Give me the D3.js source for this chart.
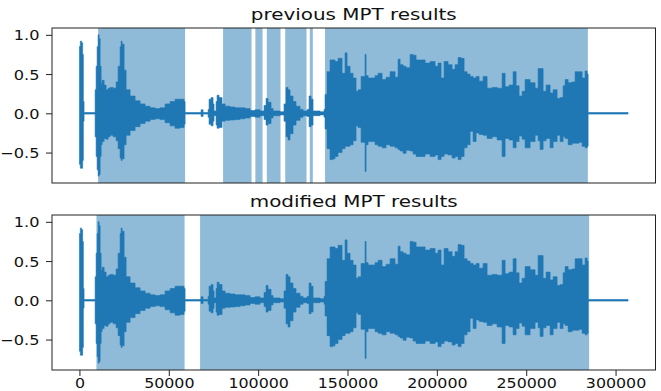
<!DOCTYPE html>
<html><head><meta charset="utf-8">
<script src="https://cdn.jsdelivr.net/npm/d3@7"></script>
<style>body{margin:0;background:#fff}svg{display:block}</style>
</head><body><svg id="c" width="661" height="391"></svg>
<script>
const panelTitles = ["previous MPT results", "modified MPT results"];
const xTicks = [0, 50000, 100000, 150000, 200000, 250000, 300000];
const yTicks = [-0.5, 0.0, 0.5, 1.0];
const signalLength = 307000;
const prevShaded = [[10460, 59120], [80380, 96310], [98440, 102460], [104870, 112530], [115160, 127070], [128920, 130590], [137430, 284500]];
const modShaded = [[9510, 58840], [67510, 285200]];

// waveform envelope (sample index, upper value, lower value)
const envSample = [
  0, 500, 1200, 1800, 2200, 2600,
  8500, 8780, 9340, 9900, 10460, 11020, 11580, 12140, 12700, 13820, 14930, 16050, 17170, 18850, 20530, 21650, 22760, 23320, 23880, 25000, 26120, 28350, 31150, 33950, 36740, 39540, 42340, 45130, 47930, 50730, 53520, 56320, 58560, 59120,
  68070, 69190, 71990, 72540, 73660, 74780, 75340, 76460, 77020, 78140, 79820, 81500, 84290, 87090, 89890, 92680, 95480, 98280, 101070, 103310, 104430, 105550, 107230, 108350, 112250, 114490, 115610, 116730, 117850, 119530, 121210, 123450, 125130, 127370, 128490, 129610, 130730, 134640, 136880,
  137440, 138560, 140240, 141920, 143040, 144720, 146960, 148640, 149760, 151440, 153120, 154800, 155920, 157600, 159840, 160400, 161520, 163760, 165440, 167120,
  169360, 171600, 173830, 176630, 178310, 179430, 181110, 182790, 185030, 186710, 188390, 190630, 193420, 196220, 199020, 200690, 202370, 204050, 206290, 208530,
  210210, 211890, 213570, 215250, 216930, 218600, 220280, 221960, 223640, 225880, 228120, 230920, 233710, 236510, 238190, 240430, 242670, 244350, 246020, 247700,
  249380, 252180, 254980, 256660, 257780, 259460, 261140, 263380, 265060, 267290, 268970, 270650, 271770, 273450, 275690, 277370, 279610, 281290, 282970, 284090,
  284650, 307000
];
const envUpper = [
  0.85, 0.92, 0.90, 0.75, 0.15, 0.01,
  0.01, 0.30, 0.60, 0.85, 1.00, 0.95, 0.60, 0.38, 0.42, 0.36, 0.30, 0.32, 0.33, 0.32, 0.40, 0.60, 0.85, 0.92, 0.88, 0.55, 0.30, 0.22, 0.16, 0.12, 0.09, 0.07, 0.06, 0.07, 0.12, 0.15, 0.18, 0.18, 0.15, 0.01,
  0.045, 0.01, 0.05, 0.18, 0.20, 0.12, 0.03, 0.15, 0.23, 0.20, 0.12, 0.09, 0.08, 0.07, 0.07, 0.06, 0.035, 0.045, 0.03, 0.10, 0.19, 0.14, 0.06, 0.03, 0.02, 0.12, 0.33, 0.30, 0.22, 0.15, 0.09, 0.05, 0.03, 0.05, 0.22, 0.18, 0.03, 0.02, 0.05,
  0.24, 0.53, 0.68, 0.68, 0.66, 0.70, 0.51, 0.77, 0.60, 0.51, 0.45, 0.28, 0.30, 0.47, 0.75, 0.48, 0.45, 0.45, 0.48, 0.51,
  0.43, 0.46, 0.53, 0.46, 0.69, 0.62, 0.60, 0.58, 0.75, 0.74, 0.68, 0.68, 0.64, 0.66, 0.60, 0.64, 0.45, 0.66, 0.62, 0.56,
  0.62, 0.71, 0.70, 0.53, 0.50, 0.47, 0.45, 0.47, 0.41, 0.47, 0.32, 0.33, 0.32, 0.51, 0.34, 0.36, 0.53, 0.35, 0.22, 0.28,
  0.43, 0.39, 0.32, 0.57, 0.57, 0.28, 0.36, 0.26, 0.30, 0.19, 0.20, 0.35, 0.43, 0.39, 0.40, 0.53, 0.53, 0.45, 0.54, 0.50,
  0.01, 0.01
];
const envLower = [
  -0.65, -0.70, -0.70, -0.60, -0.10, -0.01,
  -0.01, -0.30, -0.55, -0.72, -0.80, -0.78, -0.55, -0.40, -0.36, -0.32, -0.33, -0.30, -0.28, -0.30, -0.35, -0.45, -0.57, -0.60, -0.58, -0.40, -0.28, -0.22, -0.17, -0.13, -0.10, -0.08, -0.07, -0.08, -0.12, -0.16, -0.19, -0.18, -0.14, -0.01,
  -0.04, -0.01, -0.05, -0.14, -0.16, -0.10, -0.03, -0.15, -0.19, -0.18, -0.10, -0.09, -0.085, -0.08, -0.07, -0.06, -0.04, -0.05, -0.03, -0.08, -0.15, -0.13, -0.06, -0.03, -0.02, -0.10, -0.30, -0.34, -0.26, -0.15, -0.09, -0.05, -0.03, -0.04, -0.17, -0.15, -0.03, -0.02, -0.05,
  -0.20, -0.45, -0.59, -0.58, -0.55, -0.50, -0.45, -0.42, -0.42, -0.40, -0.35, -0.16, -0.18, -0.37, -0.74, -0.40, -0.36, -0.36, -0.40, -0.42,
  -0.44, -0.40, -0.42, -0.44, -0.46, -0.48, -0.51, -0.47, -0.48, -0.52, -0.55, -0.55, -0.52, -0.55, -0.53, -0.59, -0.55, -0.52, -0.53, -0.57,
  -0.55, -0.59, -0.55, -0.44, -0.40, -0.23, -0.36, -0.25, -0.27, -0.28, -0.32, -0.30, -0.34, -0.55, -0.32, -0.34, -0.44, -0.36, -0.29, -0.33,
  -0.44, -0.36, -0.28, -0.35, -0.46, -0.35, -0.32, -0.44, -0.36, -0.28, -0.36, -0.30, -0.32, -0.40, -0.38, -0.38, -0.37, -0.42, -0.44, -0.42,
  -0.01, -0.01
];

const envelope = envSample.map((s, i) => ({s, hi: envUpper[i], lo: envLower[i]}));
const panels = [
  {title: panelTitles[0], shaded: prevShaded, top: 28, bottom: 183, showX: false},
  {title: panelTitles[1], shaded: modShaded, top: 215, bottom: 370, showX: true}
];
const left = 52, right = 655.5;
const blue = "#1f77b4";
const font = "'DejaVu Sans', sans-serif";
const svg = d3.select("#c");

const x = d3.scaleLinear().domain([-0.05 * signalLength, 1.05 * signalLength]).range([left, right]);

panels.forEach((p, pi) => {
  const y = d3.scaleLinear().domain([-0.888, 1.087]).range([p.bottom, p.top]);
  const g = svg.append("g");
  const clipId = "clip" + pi;
  svg.append("clipPath").attr("id", clipId).append("rect")
    .attr("x", left).attr("y", p.top).attr("width", right - left).attr("height", p.bottom - p.top);
  const plot = g.append("g").attr("clip-path", `url(#${clipId})`);

  plot.selectAll("rect.span").data(p.shaded).join("rect").attr("class", "span")
    .attr("x", d => x(d[0])).attr("width", d => x(d[1]) - x(d[0]))
    .attr("y", p.top).attr("height", p.bottom - p.top)
    .attr("fill", blue).attr("fill-opacity", 0.5);

  const area = d3.area().x(d => x(d.s)).y0(d => y(d.lo)).y1(d => y(d.hi)).curve(d3.curveStepAfter);
  plot.append("path").datum(envelope).attr("d", area).attr("fill", blue)
    .attr("stroke", blue).attr("stroke-width", 0.6);

  // y axis
  const ya = g.append("g").attr("transform", `translate(${left},0)`)
    .call(d3.axisLeft(y).tickValues(yTicks).tickSize(6).tickFormat(d3.format(".1f")));
  ya.select(".domain").remove();
  ya.selectAll(".tick line").attr("stroke", "#222");
  ya.selectAll(".tick text").attr("x", 0).attr("dy", "0.36em")
    .attr("transform", "translate(-12.5,0) scale(1.17,1)")
    .attr("font-family", font).attr("font-size", 13.8).attr("fill", "#111");

  if (p.showX) {
    const xa = g.append("g").attr("transform", `translate(0,${p.bottom})`)
      .call(d3.axisBottom(x).tickValues(xTicks).tickSize(6).tickFormat(d3.format("d")));
    xa.select(".domain").remove();
    xa.selectAll(".tick line").attr("stroke", "#222");
    xa.selectAll(".tick text").attr("y", 0).attr("dy", 0)
      .attr("transform", "translate(0,17.8) scale(1.2,1)")
      .attr("font-family", font).attr("font-size", 13.2).attr("fill", "#111");
  }

  g.append("rect").attr("x", left).attr("y", p.top).attr("width", right - left).attr("height", p.bottom - p.top)
    .attr("fill", "none").attr("stroke", "#222").attr("stroke-width", 1);

  g.append("text").text(p.title)
    .attr("transform", `translate(${(left + right) / 2},${p.top - 8}) scale(1.33,1)`)
    .attr("text-anchor", "middle").attr("font-family", font).attr("font-size", 15).attr("fill", "#111");
});
</script></body></html>
